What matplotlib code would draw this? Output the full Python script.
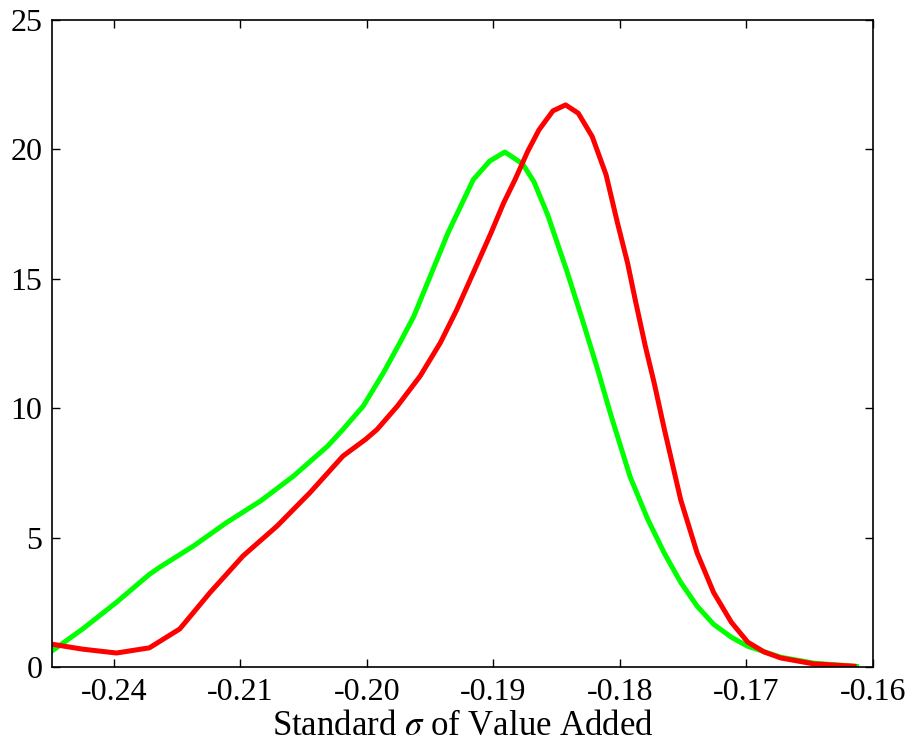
import matplotlib
matplotlib.use("Agg")
import matplotlib.pyplot as plt

# curve values
green_x = [-0.2249, -0.2225, -0.2198, -0.2172, -0.2164, -0.2137, -0.2111, -0.2084,
           -0.2058, -0.2031, -0.2019, -0.2003, -0.1987, -0.1974, -0.1963, -0.1950,
           -0.1936, -0.1926, -0.1916, -0.1903, -0.1891, -0.1877, -0.1868, -0.1857,
           -0.1842, -0.1829, -0.1818, -0.1807, -0.1792, -0.1778, -0.1765, -0.1752,
           -0.1739, -0.1726, -0.1712, -0.1699, -0.1673, -0.1647, -0.1613]
green_y = [0.62, 1.46, 2.5, 3.58, 3.85, 4.68, 5.58, 6.42,
           7.38, 8.54, 9.18, 10.08, 11.37, 12.53, 13.55, 15.1,
           16.77, 17.8, 18.83, 19.55, 19.9, 19.44, 18.75, 17.45,
           15.3, 13.3, 11.55, 9.7, 7.35, 5.7, 4.4, 3.27,
           2.35, 1.65, 1.15, 0.8, 0.38, 0.15, 0.02]

red_x = [-0.2249, -0.2225, -0.2198, -0.2172, -0.2148, -0.2124, -0.2098, -0.2071,
         -0.2045, -0.2019, -0.2001, -0.1992, -0.1976, -0.1958, -0.1942, -0.1929,
         -0.1916, -0.1902, -0.1892, -0.1883, -0.1873, -0.1864, -0.1853, -0.1843,
         -0.1833, -0.1822, -0.1811, -0.1802, -0.1794, -0.1788, -0.1780, -0.1773,
         -0.1765, -0.1752, -0.1739, -0.1726, -0.1712, -0.1699, -0.1686, -0.1673,
         -0.1647, -0.1615]
red_y = [0.88, 0.69, 0.54, 0.74, 1.47, 2.88, 4.29, 5.45,
         6.74, 8.15, 8.8, 9.18, 10.08, 11.24, 12.53, 13.81,
         15.23, 16.77, 17.93, 18.83, 19.92, 20.76, 21.49, 21.72,
         21.4, 20.5, 19.02, 17.16, 15.61, 14.2, 12.4, 10.98,
         9.2, 6.46, 4.4, 2.88, 1.73, 0.96, 0.58, 0.35,
         0.12, 0.03]

xtick_pos = [-0.22, -0.21, -0.20, -0.19, -0.18, -0.17, -0.16]
xtick_labels = ["-0.24", "-0.21", "-0.20", "-0.19", "-0.18", "-0.17", "-0.16"]
ytick_pos = [0, 5, 10, 15, 20, 25]

plt.rcParams["font.family"] = ["Liberation Serif", "DejaVu Serif"]
plt.rcParams["mathtext.fontset"] = "stix"

fig = plt.figure(figsize=(9.09, 7.42), dpi=100)
ax = fig.add_axes([0.0572, 0.1011, 0.9032, 0.8719])

ax.plot(green_x, green_y, color="#00ff00", linewidth=3.6)
ax.plot(red_x, red_y, color="#ff0000", linewidth=3.6)

ax.set_xlim(-0.2249, -0.16)
ax.set_ylim(0, 25)
ax.set_xticks(xtick_pos)
ax.set_xticklabels(xtick_labels)
ax.set_yticks(ytick_pos)
ax.tick_params(direction="in", top=True, right=True, length=6, width=1,
               labelsize=23, pad=8)
ax.tick_params(axis="y", pad=7)
for s in ax.spines.values():
    s.set_linewidth(1.2)

ax.set_xlabel(r"Standard $\sigma$ of Value Added", fontsize=25, labelpad=2)

fig.savefig("out.png", dpi=100)
